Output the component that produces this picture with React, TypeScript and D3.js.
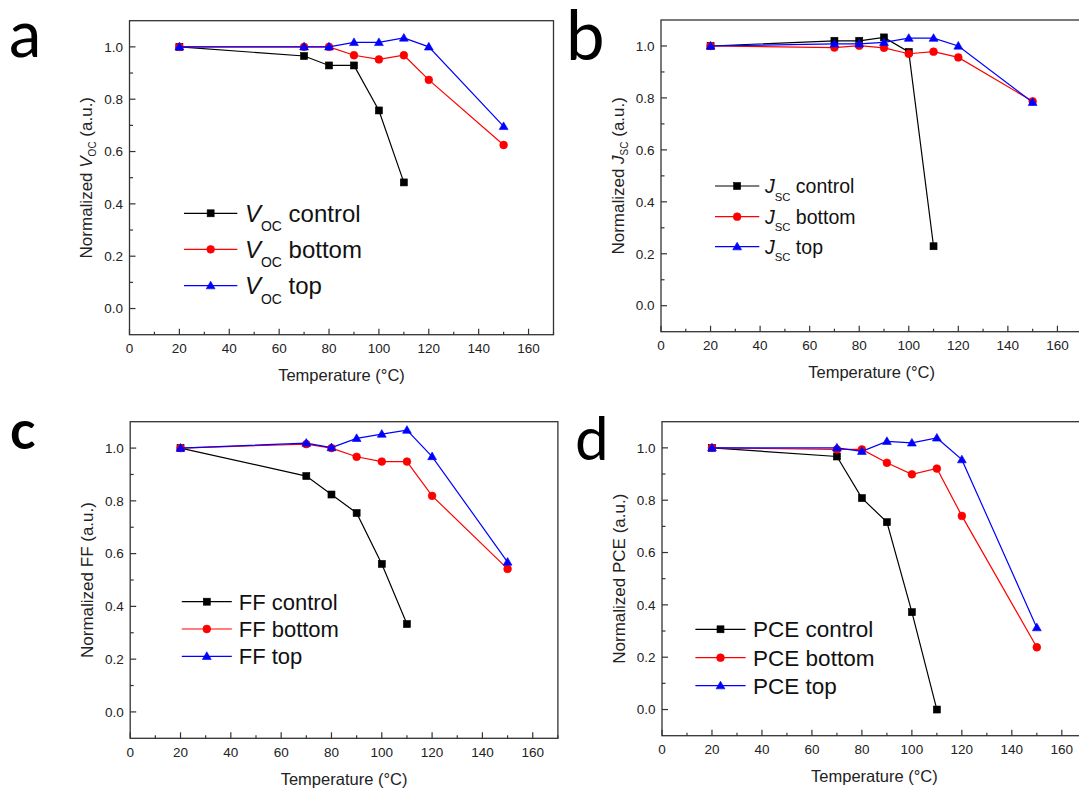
import React from "react";
import * as d3 from "d3";

// ---------------- data ----------------
const temps = [20, 70, 80, 90, 100, 110, 120, 150];
const tempsControl = [20, 70, 80, 90, 100, 110];
const xTicksMajor = [0, 20, 40, 60, 80, 100, 120, 140, 160];
const xTicksMinor = [10, 30, 50, 70, 90, 110, 130, 150, 170];
const yTicksMajor = [0, 0.2, 0.4, 0.6, 0.8, 1.0];
const yTicksMinor = [0.1, 0.3, 0.5, 0.7, 0.9];
const seriesNames = ["control", "bottom", "top"];

const vocControl = [1.0, 0.965, 0.929, 0.929, 0.757, 0.482];
const vocBottom = [1.0, 1.0, 1.0, 0.968, 0.952, 0.968, 0.874, 0.625];
const vocTop = [1.0, 1.0, 1.0, 1.017, 1.017, 1.034, 1.0, 0.696];

const jscControl = [1.0, 1.02, 1.02, 1.033, 0.977, 0.229];
const jscBottom = [1.0, 0.994, 1.001, 0.993, 0.97, 0.978, 0.956, 0.787];
const jscTop = [1.0, 1.008, 1.008, 1.014, 1.03, 1.03, 1.0, 0.783];

const ffControl = [1.0, 0.894, 0.824, 0.754, 0.561, 0.333];
const ffBottom = [1.0, 1.015, 1.0, 0.967, 0.949, 0.949, 0.819, 0.542];
const ffTop = [1.0, 1.019, 1.002, 1.037, 1.053, 1.068, 0.968, 0.568];

const pceControl = [1.0, 0.967, 0.808, 0.716, 0.372, 0.0];
const pceBottom = [1.0, 0.994, 0.994, 0.943, 0.899, 0.921, 0.74, 0.238];
const pceTop = [1.0, 1.0, 0.987, 1.025, 1.019, 1.038, 0.955, 0.313];

// ---------------- styling / layout ----------------
const COLORS = ["#000000", "#ff0000", "#0000ff"];
const AXIS = "#333333";
const FONT = "'Liberation Sans', Arial, Helvetica, sans-serif";
const LABEL_FONT = "Lato, 'Open Sans', sans-serif";

type Panel = {
  letter: string;
  letterX: number;
  letterY: number;
  letterSize: number;
  letterWeight: number;
  left: number;
  right: number;
  top: number;
  bottom: number;
  prefix: string;
  italic: boolean;
  sub: string;
  data: number[][];
  legX0: number;
  legX1: number;
  legRows: number[];
  legTextX: number;
  legFont: number;
};

const panels: Panel[] = [
  {
    letter: "a", letterX: 9, letterY: 56.7, letterSize: 65, letterWeight: 400,
    left: 129.5, right: 553.5, top: 20.7, bottom: 334.7,
    prefix: "V", italic: true, sub: "OC",
    data: [vocControl, vocBottom, vocTop],
    legX0: 184, legX1: 237.3, legRows: [213.3, 249.3, 285.7], legTextX: 245, legFont: 24,
  },
  {
    letter: "b", letterX: 566, letterY: 60, letterSize: 69, letterWeight: 400,
    left: 661, right: 1082.2, top: 20, bottom: 331.7,
    prefix: "J", italic: true, sub: "SC",
    data: [jscControl, jscBottom, jscTop],
    legX0: 715, legX1: 759.3, legRows: [186, 216.7, 246.7], legTextX: 765, legFont: 19.5,
  },
  {
    letter: "c", letterX: 10, letterY: 449.3, letterSize: 53, letterWeight: 700,
    left: 130.2, right: 557.9, top: 421.7, bottom: 738.3,
    prefix: "FF", italic: false, sub: "",
    data: [ffControl, ffBottom, ffTop],
    legX0: 181.8, legX1: 231.8, legRows: [601.7, 629, 656.3], legTextX: 238.7, legFont: 22,
  },
  {
    letter: "d", letterX: 575, letterY: 460, letterSize: 60, letterWeight: 400,
    left: 662, right: 1086.8, top: 421.7, bottom: 735.7,
    prefix: "PCE", italic: false, sub: "",
    data: [pceControl, pceBottom, pceTop],
    legX0: 695.4, legX1: 745.6, legRows: [629.3, 657.7, 685.7], legTextX: 753.1, legFont: 22.5,
  },
];

function Marker({ kind, x, y, color }: { kind: number; x: number; y: number; color: string }) {
  if (kind === 0) {
    const s = 7;
    return <rect x={x - s / 2} y={y - s / 2} width={s} height={s} fill={color} stroke={color} strokeWidth={0.6} />;
  }
  if (kind === 1) {
    return <circle cx={x} cy={y} r={3.9} fill={color} stroke={color} strokeWidth={0.6} />;
  }
  const sym = d3.symbol().type(d3.symbolTriangle).size(34)();
  return <path d={sym || ""} transform={`translate(${x},${y + 0.6})`} fill={color} stroke={color} strokeWidth={0.6} />;
}

function PanelView({ p }: { p: Panel }) {
  const x = d3.scaleLinear().domain([0, 170]).range([p.left, p.right]);
  const y = d3.scaleLinear().domain([-0.1, 1.1]).range([p.bottom, p.top]);
  const line = d3
    .line<[number, number]>()
    .x((d) => x(d[0]))
    .y((d) => y(d[1]));

  const seriesPts = p.data.map((vals, i) => {
    const xs = i === 0 ? tempsControl : temps;
    return vals.map((v, j) => [xs[j], v] as [number, number]);
  });

  const clipId = `clip-${p.letter}`;
  const yLabelX = p.left - 37.5;
  const yMid = (p.top + p.bottom) / 2;
  const subSize = 10;

  return (
    <g>
      <clipPath id={clipId}>
        <rect x={p.left} y={p.top} width={p.right - p.left} height={p.bottom - p.top} />
      </clipPath>
      {/* panel letter */}
      <text x={p.letterX} y={p.letterY} fontFamily={LABEL_FONT} fontSize={p.letterSize} fontWeight={p.letterWeight} fill="#000">
        {p.letter}
      </text>

      {/* frame */}
      <rect x={p.left} y={p.top} width={p.right - p.left} height={p.bottom - p.top} fill="none" stroke={AXIS} strokeWidth={1.3} />

      {/* y ticks */}
      {yTicksMajor.map((t) => (
        <g key={`ym${t}`}>
          <line x1={p.left} x2={p.left + 6} y1={y(t)} y2={y(t)} stroke={AXIS} strokeWidth={1.2} />
          <text x={p.left - 6.5} y={y(t)} dy="0.35em" textAnchor="end" fontFamily={FONT} fontSize={13.5} fill="#222">
            {d3.format(".1f")(t)}
          </text>
        </g>
      ))}
      {yTicksMinor.map((t) => (
        <line key={`yn${t}`} x1={p.left} x2={p.left + 3.5} y1={y(t)} y2={y(t)} stroke={AXIS} strokeWidth={1.2} />
      ))}

      {/* x ticks */}
      {xTicksMajor.map((t) => (
        <g key={`xm${t}`}>
          <line x1={x(t)} x2={x(t)} y1={p.bottom} y2={p.bottom - 6} stroke={AXIS} strokeWidth={1.2} />
          <text x={x(t)} y={p.bottom + 18.5} textAnchor="middle" fontFamily={FONT} fontSize={13.5} fill="#222">
            {t}
          </text>
        </g>
      ))}
      {xTicksMinor.map((t) => (
        <line key={`xn${t}`} x1={x(t)} x2={x(t)} y1={p.bottom} y2={p.bottom - 3} stroke={AXIS} strokeWidth={1.2} />
      ))}

      {/* axis titles */}
      <text x={(p.left + p.right) / 2} y={p.bottom + 46.5} textAnchor="middle" fontFamily={FONT} fontSize={16.5} fill="#222">
        Temperature (°C)
      </text>
      <text
        transform={`translate(${yLabelX},${yMid}) rotate(-90)`}
        textAnchor="middle"
        fontFamily={FONT}
        fontSize={17}
        fill="#222"
        style={{ whiteSpace: "pre" }}
      >
        <tspan>{"Normalized "}</tspan>
        {p.sub ? (
          <>
            <tspan fontStyle="italic">{p.prefix}</tspan>
            <tspan fontSize={subSize} dy={4}>{p.sub}</tspan>
            <tspan dy={-4}>{" (a.u.)"}</tspan>
          </>
        ) : (
          <tspan>{p.prefix + " (a.u.)"}</tspan>
        )}
      </text>

      {/* series */}
      <g clipPath={`url(#${clipId})`}>
        {seriesPts.map((pts, i) => (
          <g key={`s${i}`}>
            <path d={line(pts) || ""} fill="none" stroke={COLORS[i]} strokeWidth={1.2} />
            {pts.map((d, j) => (
              <Marker key={j} kind={i} x={x(d[0])} y={y(d[1])} color={COLORS[i]} />
            ))}
          </g>
        ))}
      </g>

      {/* legend */}
      {seriesNames.map((name, i) => {
        const ry = p.legRows[i];
        const f = p.legFont;
        const base = ry + 0.358 * f;
        return (
          <g key={`l${i}`}>
            <line x1={p.legX0} x2={p.legX1} y1={ry} y2={ry} stroke={COLORS[i]} strokeWidth={1.2} />
            <Marker kind={i} x={(p.legX0 + p.legX1) / 2} y={ry} color={COLORS[i]} />
            <text x={p.legTextX} y={base} fontFamily={FONT} fontSize={f} fill="#111" style={{ whiteSpace: "pre" }}>
              {p.sub ? (
                <>
                  <tspan fontStyle="italic">{p.prefix}</tspan>
                  <tspan fontSize={f * 0.58} dy={f * 0.4}>{p.sub}</tspan>
                  <tspan dy={-f * 0.4}>{" " + name}</tspan>
                </>
              ) : (
                <tspan>{p.prefix + " " + name}</tspan>
              )}
            </text>
          </g>
        );
      })}
    </g>
  );
}

export default function App() {
  return (
    <div style={{ position: "absolute", left: 0, top: 0 }}>
      <svg width={1079} height={789} viewBox="0 0 1079 789" style={{ display: "block", background: "#fff" }}>
        <rect x={0} y={0} width={1079} height={789} fill="#fff" />
        {panels.map((p) => (
          <PanelView key={p.letter} p={p} />
        ))}
      </svg>
    </div>
  );
}
